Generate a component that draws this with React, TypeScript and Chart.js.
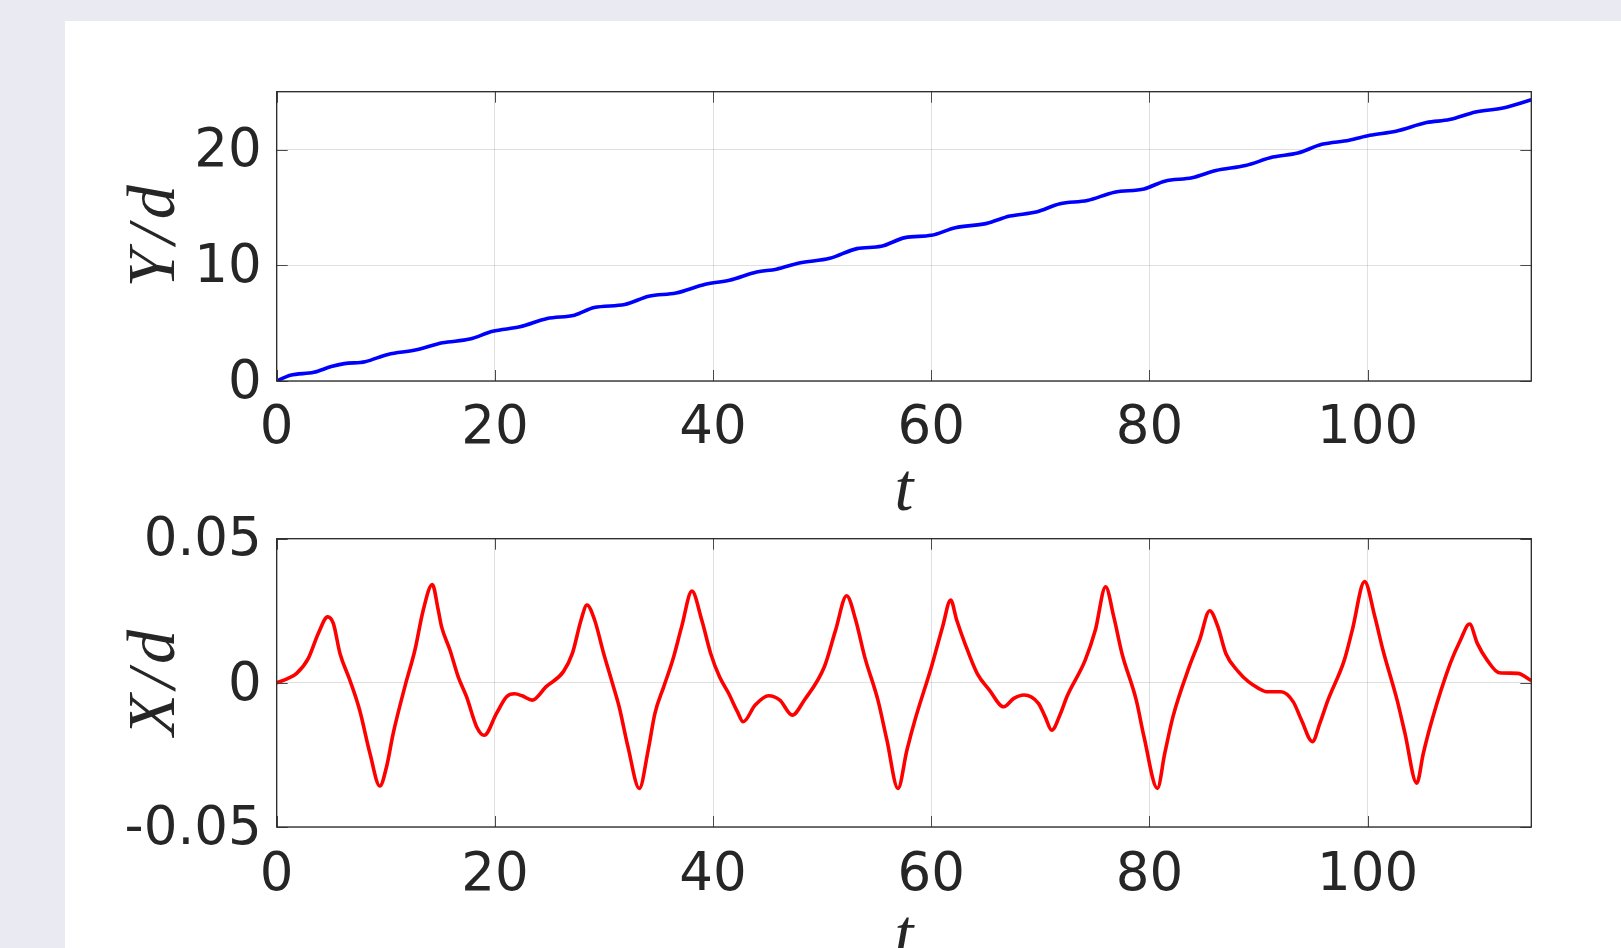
import React, { useEffect, useRef } from "react";
import { Chart, registerables } from "chart.js";

Chart.register(...registerables);

// ---------- data ----------
const tTop = [
  0, 1.25, 3.4, 5.0, 6.2, 8.1, 10.2, 12.7, 15.2, 17.7, 19.8, 22.3, 24.8, 27.3,
  29.1, 31.9, 34.1, 36.6, 39.3, 41.5, 44.0, 45.8, 47.9, 50.7, 53.2, 55.4, 57.6,
  60.0, 62.2, 65.0, 67.2, 69.6, 71.8, 74.3, 76.8, 79.5, 81.4, 83.9, 86.1, 88.8,
  91.3, 93.6, 95.8, 98.3, 100.2, 102.6, 105.4, 107.5, 109.9, 112.4, 115,
];
const yTop = [
  0, 0.5, 0.75, 1.25, 1.5, 1.67, 2.3, 2.67, 3.3, 3.62, 4.3, 4.68, 5.4, 5.69,
  6.35, 6.61, 7.33, 7.61, 8.36, 8.71, 9.42, 9.66, 10.2, 10.6, 11.44, 11.64,
  12.39, 12.59, 13.25, 13.6, 14.25, 14.6, 15.32, 15.6, 16.32, 16.6, 17.27,
  17.56, 18.19, 18.62, 19.35, 19.7, 20.45, 20.8, 21.23, 21.58, 22.33, 22.59,
  23.25, 23.59, 24.3,
];

const tBottom = [
  0, 1.0, 1.83, 2.9, 3.82, 4.67, 5.19, 5.8, 6.7, 7.6, 8.55, 9.45, 10.07, 10.68,
  11.75, 12.67, 13.43, 14.26, 14.81, 15.11, 15.88, 16.64, 17.4, 18.32, 19.02,
  20.15, 21.07, 21.8, 22.5, 23.42, 24.7, 26.28, 27.1, 27.9, 28.44, 29.14,
  29.97, 30.78, 31.39, 32.2, 33.24, 34.05, 34.67, 35.48, 36.3, 37.12, 38.06,
  38.96, 39.78, 40.59, 41.42, 42.23, 42.76, 43.86, 45.09, 46.12, 47.26, 48.36,
  50.2, 51.23, 52.24, 53.07, 53.89, 55.11, 55.93, 56.95, 57.77, 58.59, 60.02,
  61.04, 61.78, 62.33, 63.08, 64.2, 65.33, 66.64, 67.57, 68.5, 69.82, 70.44,
  71.04, 71.85, 72.43, 74.11, 75.04, 75.98, 76.73, 77.48, 78.79, 79.5, 80.73,
  81.4, 82.15, 83.65, 84.59, 85.52, 86.27, 87.0, 88.14, 89.07, 90.0, 90.75,
  92.06, 93.18, 93.93, 94.94, 95.62, 96.36, 97.86, 98.59, 99.72, 100.66,
  101.4, 102.7, 103.42, 104.5, 105.1, 105.9, 107.58, 108.5, 109.34, 110.05,
  110.95, 112.07, 113.75, 115,
];
const xBottom = [
  0, 0.0015, 0.0033, 0.0085, 0.0172, 0.0229, 0.0206, 0.0102, 0.001, -0.0094,
  -0.0245, -0.0358, -0.0291, -0.0175, -0.0013, 0.0114, 0.0252, 0.0341, 0.0252,
  0.0195, 0.0114, 0.0021, -0.0048, -0.0152, -0.0182, -0.0106, -0.0048,
  -0.0038, -0.0045, -0.006, -0.0013, 0.0039, 0.0102, 0.0218, 0.027, 0.0218,
  0.0102, -0.0002, -0.0083, -0.0222, -0.0366, -0.0233, -0.0106, -0.0013,
  0.0079, 0.0195, 0.0318, 0.0218, 0.0102, 0.0021, -0.0036, -0.01, -0.0135,
  -0.0077, -0.0045, -0.006, -0.0112, -0.006, 0.0056, 0.0183, 0.0302, 0.0218,
  0.0091, -0.006, -0.0198, -0.0366, -0.0233, -0.0118, 0.0056, 0.0195, 0.0287,
  0.0218, 0.0137, 0.0033, -0.0025, -0.0083, -0.0054, -0.0042, -0.0071,
  -0.0118, -0.0164, -0.0106, -0.0048, 0.0079, 0.0183, 0.0333, 0.0229, 0.0102,
  -0.006, -0.0187, -0.0366, -0.0245, -0.0118, 0.0056, 0.0148, 0.025, 0.0195,
  0.0102, 0.0039, 0.0004, -0.0019, -0.0031, -0.0031, -0.0066, -0.0129,
  -0.0204, -0.014, -0.006, 0.0079, 0.0183, 0.0351, 0.0229, 0.0114, -0.006,
  -0.0175, -0.0348, -0.0245, -0.0129, 0.0068, 0.0148, 0.0204, 0.0137, 0.0079,
  0.0035, 0.0033, 0.0008,
];

const xTickValues = [0, 20, 40, 60, 80, 100];
const xTickLabels = ["0", "20", "40", "60", "80", "100"];
const topYTickValues = [0, 10, 20];
const topYTickLabels = ["0", "10", "20"];
const bottomYTickValues = [-0.05, 0, 0.05];
const bottomYTickLabels = ["-0.05", "0", "0.05"];

// ---------- styles ----------
const TEXT = "#262626";
const GRID = "rgba(38,38,38,0.14)";
const TICK_FONT = "'DejaVu Sans', sans-serif";
const TITLE_FONT = "'Liberation Serif', 'Times New Roman', serif";
const TICK_SIZE = 53;
const TITLE_SIZE = 68;

const boxPlugin = {
  id: "matlabBox",
  afterDatasetsDraw(chart: any) {
    const { ctx, chartArea, scales } = chart;
    const { left, right, top, bottom } = chartArea;
    const L = 11;
    ctx.save();
    ctx.strokeStyle = "#4a4a4a";
    ctx.lineWidth = 1;
    ctx.beginPath();
    scales.x.ticks.forEach((t: any) => {
      const px = Math.round(scales.x.getPixelForValue(t.value)) + 0.5;
      ctx.moveTo(px, bottom);
      ctx.lineTo(px, bottom - L);
      ctx.moveTo(px, top);
      ctx.lineTo(px, top + L);
    });
    scales.y.ticks.forEach((t: any) => {
      const py = Math.round(scales.y.getPixelForValue(t.value)) + 0.5;
      ctx.moveTo(left, py);
      ctx.lineTo(left + L, py);
      ctx.moveTo(right, py);
      ctx.lineTo(right - L, py);
    });
    ctx.stroke();
    ctx.strokeStyle = TEXT;
    ctx.lineWidth = 1.3;
    ctx.strokeRect(left, top, right - left, bottom - top);
    ctx.restore();
  },
};

function buildConfig(p: any) {
  return {
    type: "line",
    data: {
      datasets: [
        {
          data: p.t.map((t: number, i: number) => ({ x: t, y: p.v[i] })),
          borderColor: p.color,
          borderWidth: 3.6,
          pointRadius: 0,
          fill: false,
          cubicInterpolationMode: "monotone",
        },
      ],
    },
    options: {
      animation: false,
      responsive: false,
      maintainAspectRatio: false,
      events: [],
      layout: { padding: { left: 0, right: p.padRight, top: p.padTop, bottom: 0 } },
      plugins: { legend: { display: false }, tooltip: { enabled: false } },
      scales: {
        x: {
          type: "linear",
          min: 0,
          max: 115,
          afterBuildTicks: (s: any) => {
            s.ticks = xTickValues.map((v) => ({ value: v }));
          },
          afterFit: (s: any) => {
            s.height = p.xAxisHeight;
          },
          grid: { color: GRID, lineWidth: 1, drawTicks: false },
          border: { display: false },
          ticks: {
            padding: p.xTickPad,
            autoSkip: false,
            maxRotation: 0,
            minRotation: 0,
            color: TEXT,
            font: { family: TICK_FONT, size: TICK_SIZE, lineHeight: 1 },
            callback: (_v: any, i: number) => xTickLabels[i],
          },
          title: {
            display: true,
            text: "t",
            color: TEXT,
            font: { family: TITLE_FONT, size: TITLE_SIZE, style: "italic", lineHeight: 1 },
            padding: { top: 0, bottom: p.xTitlePad },
          },
        },
        y: {
          type: "linear",
          min: p.yMin,
          max: p.yMax,
          afterBuildTicks: (s: any) => {
            s.ticks = p.yTicks.map((v: number) => ({ value: v }));
          },
          afterFit: (s: any) => {
            s.width = p.yAxisWidth;
          },
          grid: { color: GRID, lineWidth: 1, drawTicks: false },
          border: { display: false },
          ticks: {
            padding: 15,
            labelOffset: 3,
            autoSkip: false,
            color: TEXT,
            font: { family: TICK_FONT, size: TICK_SIZE, lineHeight: 1 },
            callback: (_v: any, i: number) => p.yLabels[i],
          },
          title: {
            display: true,
            text: p.yTitle,
            color: TEXT,
            font: { family: TITLE_FONT, size: TITLE_SIZE, style: "italic", lineHeight: 1 },
            padding: { top: p.yTitlePad, bottom: 0 },
          },
        },
      },
    },
    plugins: [boxPlugin],
  } as any;
}

function Panel(props: { style: any; width: number; height: number; cfg: any }) {
  const ref = useRef<HTMLCanvasElement | null>(null);
  useEffect(() => {
    if (!ref.current) return;
    const chart = new Chart(ref.current, props.cfg);
    return () => chart.destroy();
  }, []);
  return <canvas ref={ref} width={props.width} height={props.height} style={props.style} />;
}

export default function App() {
  const topCfg = buildConfig({
    t: tTop,
    v: yTop,
    color: "#0000FF",
    yMin: 0,
    yMax: 25,
    yTicks: topYTickValues,
    yLabels: topYTickLabels,
    yTitle: "Y\u200A/\u200Ad",
    padTop: 70.7,
    padRight: 89.7,
    yAxisWidth: 211.7,
    xAxisHeight: 145,
    xTickPad: 21.5,
    xTitlePad: 0,
    yTitlePad: 57,
  });
  const bottomCfg = buildConfig({
    t: tBottom,
    v: xBottom,
    color: "#FF0000",
    yMin: -0.05,
    yMax: 0.05,
    yTicks: bottomYTickValues,
    yLabels: bottomYTickLabels,
    yTitle: "X\u200A/\u200Ad",
    padTop: 58.7,
    padRight: 89.7,
    yAxisWidth: 211.7,
    xAxisHeight: 173,
    xTickPad: 22.5,
    xTitlePad: 28,
    yTitlePad: 57,
  });
  return (
    <div
      style={{
        position: "fixed",
        left: 0,
        top: 0,
        width: "100vw",
        height: "100vh",
        background: "#EAEAF2",
        overflow: "hidden",
      }}
    >
      <div
        style={{
          position: "absolute",
          left: 65,
          top: 21,
          width: 1700,
          height: 1100,
          background: "#FFFFFF",
        }}
      />
      <Panel
        cfg={topCfg}
        width={1556}
        height={505}
        style={{ position: "absolute", left: 65, top: 21 }}
      />
      <Panel
        cfg={bottomCfg}
        width={1556}
        height={520}
        style={{ position: "absolute", left: 65, top: 480 }}
      />
    </div>
  );
}
